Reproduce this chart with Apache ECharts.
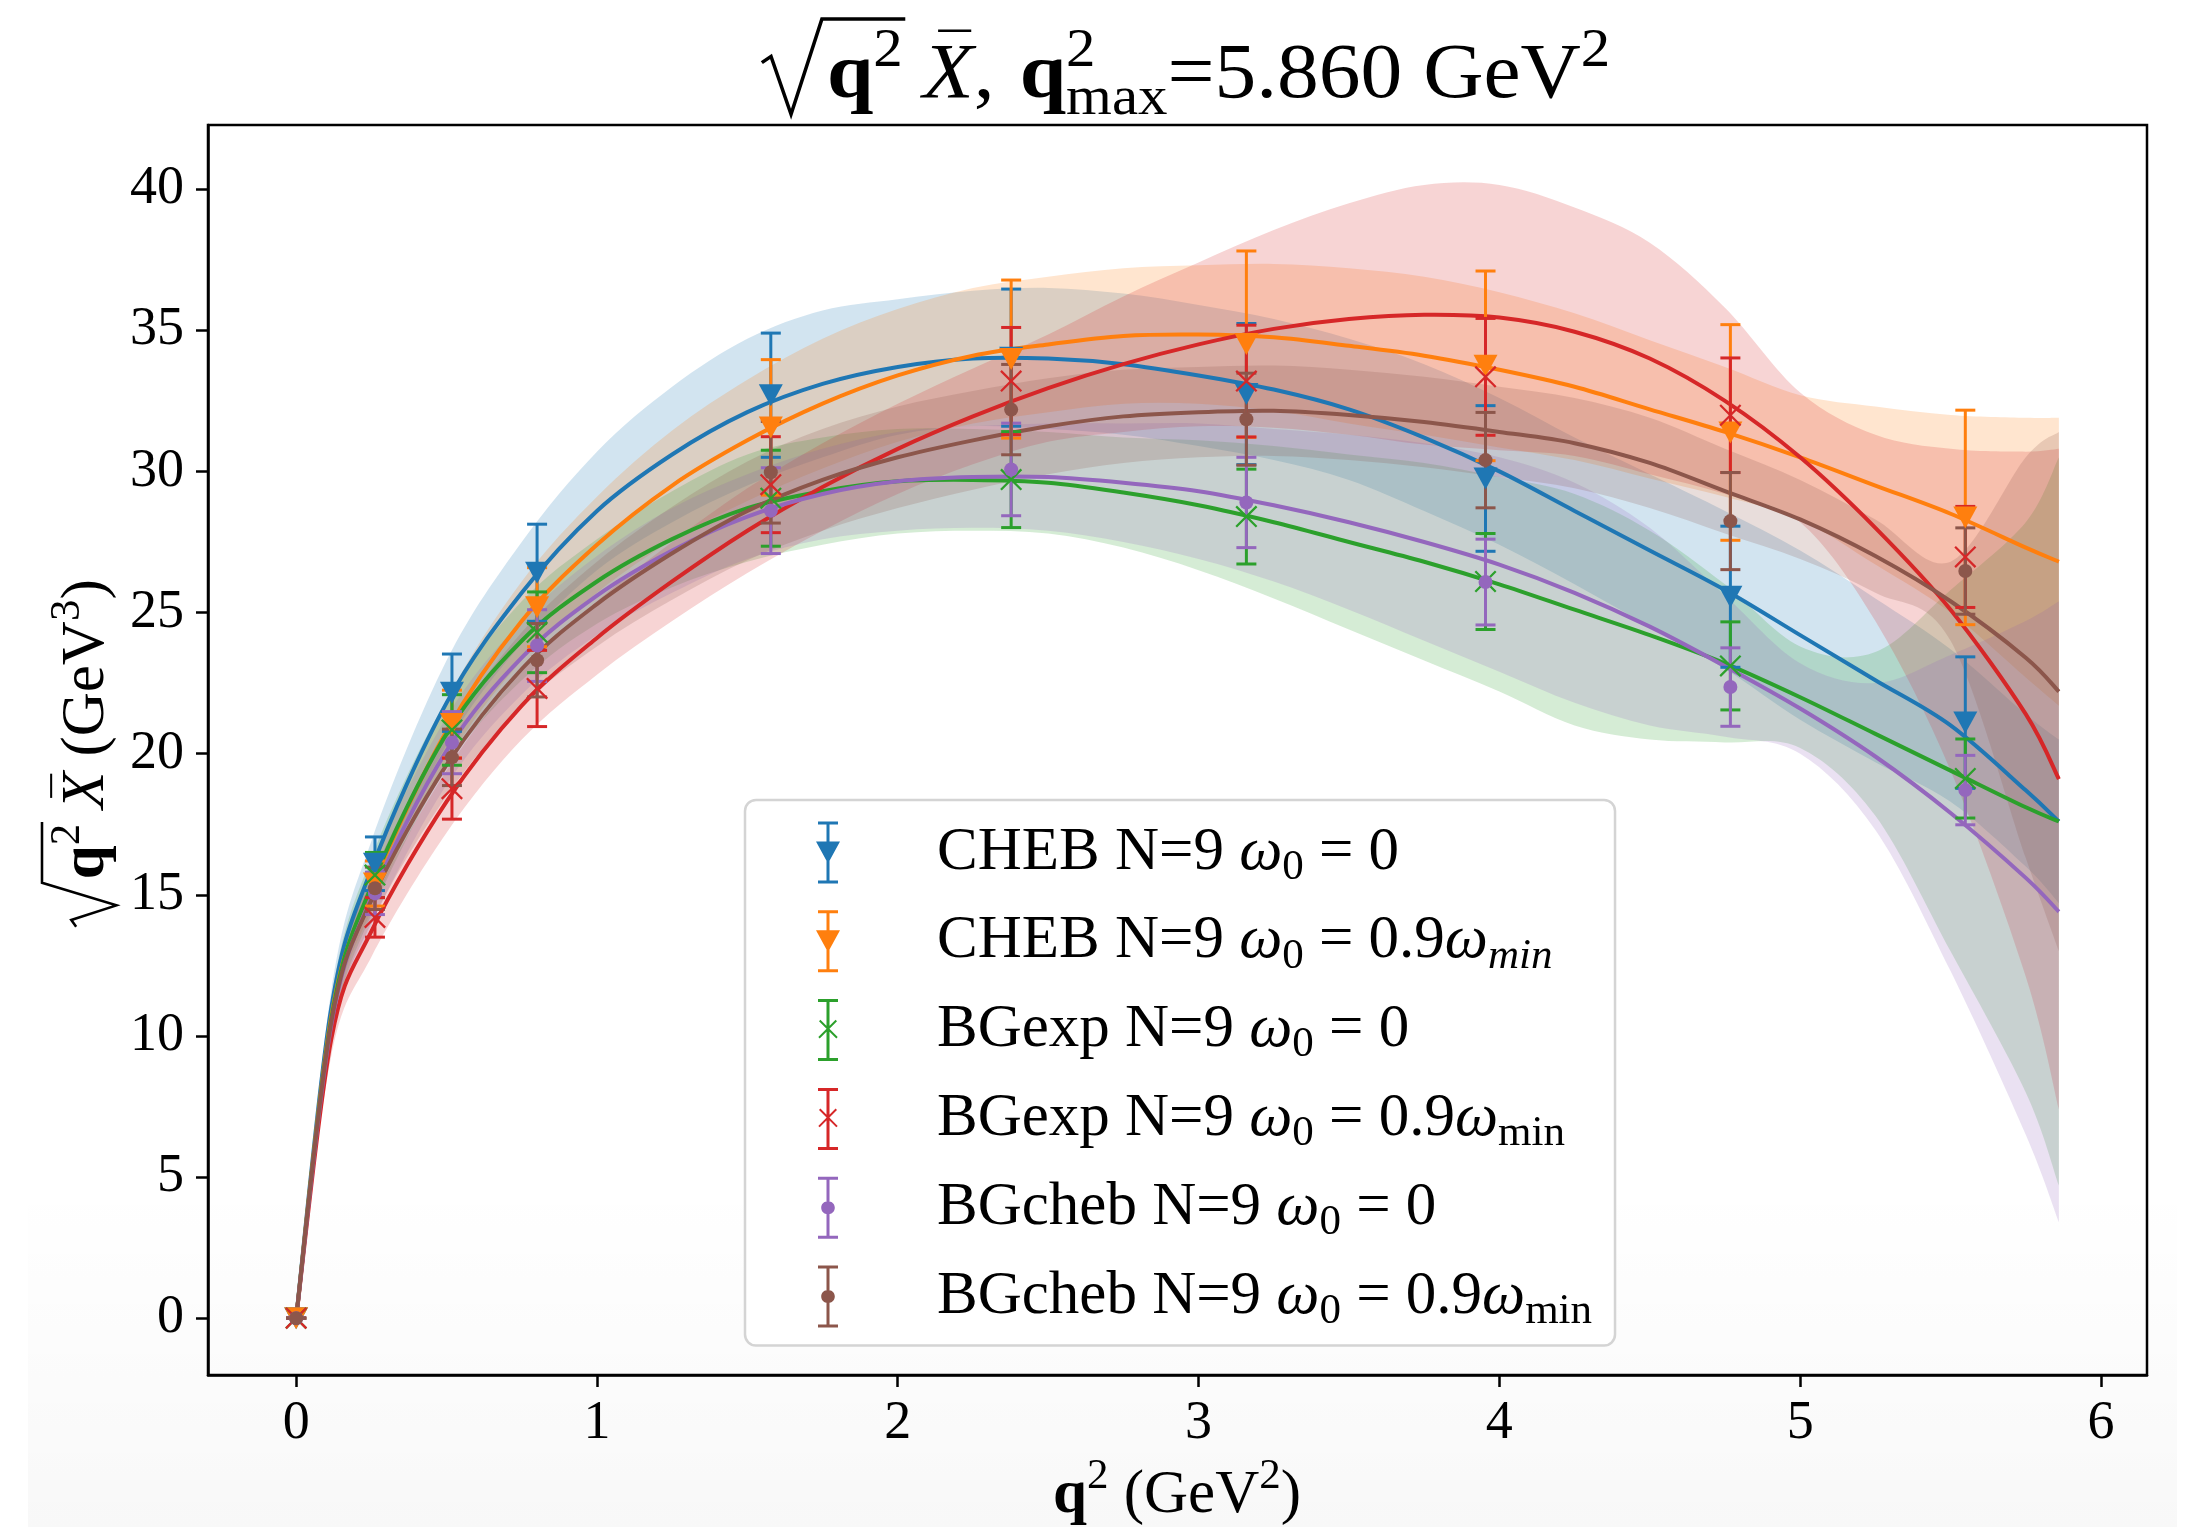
<!DOCTYPE html>
<html>
<head>
<meta charset="utf-8">
<script src="https://cdn.jsdelivr.net/npm/echarts@6.0.0/dist/echarts.min.js"></script>
<style>
  html, body { margin: 0; padding: 0; background: #ffffff; }
  #chart { width: 2193px; height: 1527px; }
</style>
</head>
<body>
<div id="chart"></div>
<script>
// ---------------- data ----------------
// lattice points in q^2 (GeV^2)
const qPoints = [0, 0.262, 0.518, 0.801, 1.578, 2.377, 3.159, 3.954, 4.768, 5.549];

// sqrt(q^2) Xbar at the lattice points, with errors
const cheb0Val   = [0, 16.10, 22.16, 26.41, 32.70, 34.03, 32.74, 29.75, 25.56, 21.10];
const cheb0Err   = [0, 0.95, 1.37, 1.72, 2.20, 2.43, 2.50, 2.58, 2.50, 2.33];
const cheb09Val  = [0, 15.40, 21.05, 25.19, 31.56, 33.98, 34.51, 33.74, 31.38, 28.37];
const cheb09Err  = [0, 0.80, 1.20, 1.40, 2.40, 2.80, 3.30, 3.36, 3.82, 3.80];
const bgexp0Val  = [0, 15.70, 20.84, 24.30, 29.05, 29.71, 28.40, 26.10, 23.11, 19.12];
const bgexp0Err  = [0, 0.80, 1.25, 1.43, 1.70, 1.70, 1.68, 1.70, 1.56, 1.40];
const bgexp09Val = [0, 14.20, 18.76, 22.31, 29.53, 33.20, 33.20, 33.35, 31.99, 26.97];
const bgexp09Err = [0, 0.70, 1.08, 1.35, 1.70, 1.90, 1.98, 2.07, 2.03, 1.79];
const bgcheb0Val = [0, 15.05, 20.39, 23.83, 28.61, 30.07, 28.90, 26.08, 22.36, 18.71];
const bgcheb0Err = [0, 0.75, 1.10, 1.27, 1.52, 1.64, 1.60, 1.52, 1.39, 1.23];
const bgcheb09Val = [0, 15.23, 19.87, 23.31, 29.97, 32.19, 31.85, 30.40, 28.24, 26.47];
const bgcheb09Err = [0, 0.75, 1.00, 1.30, 1.80, 1.60, 1.63, 1.69, 1.72, 1.53];

// fitted curves and their error bands, sampled in q^2
const fitX = [0, 0.117, 0.25, 0.5, 0.75, 1.0, 1.25, 1.5, 1.75, 2.0, 2.25, 2.5, 2.75, 3.0, 3.25,
              3.5, 3.75, 4.0, 4.25, 4.5, 4.75, 5.0, 5.25, 5.5, 5.75, 5.86];

const cheb0Fit = [0, 11.0, 15.9, 21.8, 25.7, 28.6, 30.6, 32.1, 33.1, 33.7, 34.0, 34.0, 33.8, 33.4, 32.9,
                  32.2, 31.2, 30.0, 28.6, 27.2, 25.8, 24.2, 22.6, 21.0, 18.7, 17.6];
const cheb0Hi  = [0, 11.6, 16.9, 23.3, 27.5, 30.7, 33.0, 34.7, 35.7, 36.1, 36.4, 36.5, 36.3, 35.9, 35.4,
                  34.7, 33.8, 32.6, 31.2, 29.9, 28.6, 27.2, 25.5, 23.7, 21.4, 20.5];
const cheb0Lo  = [0, 10.4, 14.9, 20.3, 23.9, 26.5, 28.2, 29.5, 30.5, 31.3, 31.6, 31.5, 31.3, 30.9, 30.4,
                  29.7, 28.6, 27.4, 26.0, 24.5, 23.0, 21.2, 19.7, 18.3, 16.0, 14.7];

const cheb09Fit = [0, 10.7, 15.2, 20.8, 24.7, 27.4, 29.5, 31.1, 32.4, 33.4, 34.1, 34.5, 34.8, 34.85, 34.75,
                   34.45, 34.1, 33.6, 33.0, 32.2, 31.4, 30.5, 29.5, 28.5, 27.3, 26.8];
const cheb09Hi  = [0, 11.2, 15.95, 21.9, 26.1, 29.1, 31.45, 33.25, 34.7, 35.75, 36.5, 36.9, 37.2, 37.3, 37.35,
                   37.2, 36.9, 36.35, 35.6, 34.65, 33.7, 32.7, 32.3, 32.0, 31.9, 31.9];
const cheb09Lo  = [0, 10.2, 14.45, 19.7, 23.3, 25.7, 27.55, 28.95, 30.1, 31.05, 31.7, 32.1, 32.4, 32.4, 32.15,
                   31.7, 31.3, 30.85, 30.4, 29.75, 29.1, 28.3, 26.7, 25.0, 22.7, 21.7];

const bgexp0Fit = [0, 10.6, 15.3, 20.7, 24.0, 26.1, 27.6, 28.7, 29.3, 29.65, 29.7, 29.6, 29.25, 28.8, 28.2,
                   27.5, 26.8, 26.0, 25.1, 24.2, 23.2, 22.0, 20.7, 19.4, 18.1, 17.6];
const bgexp0Hi  = [0, 11.3, 16.3, 21.9, 25.4, 27.6, 29.3, 30.6, 31.2, 31.5, 31.5, 31.4, 31.2, 31.1, 30.9,
                   30.6, 30.3, 29.8, 29.2, 27.9, 26.0, 23.8, 23.6, 25.8, 28.2, 30.5];
const bgexp0Lo  = [0, 9.9, 14.3, 19.5, 22.6, 24.6, 25.9, 26.8, 27.4, 27.8, 27.9, 27.8, 27.3, 26.5, 25.5,
                   24.4, 23.3, 22.2, 21.0, 20.5, 20.4, 20.2, 17.8, 13.0, 8.0, 4.7];

const bgexp09Fit = [0, 9.9, 13.7, 18.3, 21.7, 24.1, 26.1, 27.9, 29.45, 30.8, 31.95, 32.95, 33.8, 34.5, 35.05,
                    35.4, 35.55, 35.45, 34.95, 34.0, 32.5, 30.5, 28.0, 25.1, 21.4, 19.1];
const bgexp09Hi  = [0, 10.5, 14.6, 19.4, 22.9, 25.4, 27.5, 29.4, 31.0, 32.4, 33.65, 34.85, 36.2, 37.4, 38.55,
                    39.5, 40.15, 40.15, 39.35, 38.1, 35.8, 32.8, 31.3, 30.8, 30.7, 30.8];
const bgexp09Lo  = [0, 9.3, 12.8, 17.2, 20.5, 22.8, 24.7, 26.4, 27.9, 29.2, 30.25, 31.05, 31.4, 31.6, 31.55,
                    31.3, 30.95, 30.75, 30.55, 29.9, 29.2, 28.2, 24.7, 19.4, 12.1, 7.4];

const bgcheb0Fit = [0, 10.4, 14.9, 20.1, 23.4, 25.6, 27.2, 28.4, 29.2, 29.65, 29.8, 29.8, 29.6, 29.3, 28.8,
                    28.2, 27.5, 26.7, 25.7, 24.5, 23.1, 21.6, 19.9, 17.9, 15.6, 14.4];
const bgcheb0Hi  = [0, 11.1, 15.9, 21.3, 24.7, 27.0, 28.7, 29.9, 30.8, 31.4, 31.6, 31.7, 31.7, 31.7, 31.5,
                    31.3, 31.0, 30.5, 29.6, 28.0, 25.6, 23.2, 22.5, 23.5, 24.7, 25.4];
const bgcheb0Lo  = [0, 9.7, 13.9, 18.9, 22.1, 24.2, 25.7, 26.9, 27.6, 27.9, 28.0, 27.9, 27.5, 26.9, 26.1,
                    25.1, 24.0, 22.9, 21.8, 21.0, 20.6, 20.0, 17.3, 12.3, 6.5, 3.4];

const bgcheb09Fit = [0, 10.5, 14.8, 19.6, 23.0, 25.3, 27.1, 28.6, 29.7, 30.5, 31.1, 31.6, 31.95, 32.1, 32.15,
                     32.0, 31.75, 31.4, 31.0, 30.3, 29.3, 28.3, 27.0, 25.4, 23.4, 22.2];
const bgcheb09Hi  = [0, 11.1, 15.6, 20.7, 24.3, 26.8, 28.75, 30.35, 31.5, 32.3, 32.85, 33.3, 33.6, 33.7, 33.75,
                     33.6, 33.35, 33.0, 32.6, 31.9, 30.8, 29.7, 28.3, 26.8, 30.5, 31.4];
const bgcheb09Lo  = [0, 9.9, 14.0, 18.5, 21.7, 23.8, 25.45, 26.85, 27.9, 28.7, 29.35, 29.9, 30.3, 30.5, 30.55,
                     30.4, 30.15, 29.8, 29.4, 28.7, 27.8, 26.9, 25.7, 24.0, 16.3, 13.0];

// axis ticks
const xTicks = [0, 1, 2, 3, 4, 5, 6];
const yTicks = [0, 5, 10, 15, 20, 25, 30, 35, 40];

// ---------------- styling ----------------
const FONT = '"Liberation Serif", "Times New Roman", serif';
const COLORS = ['#1f77b4', '#ff7f0e', '#2ca02c', '#d62728', '#9467bd', '#8c564b'];

// marker shapes (filled paths, drawn at the point)
const TRI_DOWN = 'path://M0,0 L24,0 L12,22 Z';
const CROSS = 'path://M1.6,0 L22,20.4 L20.4,22 L0,1.6 Z M20.4,0 L22,1.6 L1.6,22 L0,20.4 Z';

// legend glyphs: error bar with caps and the marker in the middle (24 x 62 box)
const BAR_PATH = 'M2,0 L22,0 L22,3 L2,3 Z M10.5,0 L13.5,0 L13.5,62 L10.5,62 Z M2,59 L22,59 L22,62 L2,62 Z';
const LEG_TRI = 'path://' + BAR_PATH + ' M0,20 L24,20 L12,42 Z';
const LEG_CROSS = 'path://' + BAR_PATH +
  ' M4.4,20.7 L21.7,38 L20.3,39.4 L3,22.1 Z M19.6,20.7 L21,22.1 L3.7,39.4 L2.3,38 Z';
const LEG_DOT = 'path://' + BAR_PATH +
  ' M12,24.5 C16,24.5 18.8,27.4 18.8,31 C18.8,34.6 16,37.5 12,37.5 C8,37.5 5.2,34.6 5.2,31 C5.2,27.4 8,24.5 12,24.5 Z';

const models = [
  { name: 'cheb0',    color: COLORS[0], val: cheb0Val,    err: cheb0Err,    fit: cheb0Fit,    lo: cheb0Lo,    hi: cheb0Hi,
    symbol: TRI_DOWN, size: [24, 22], icon: LEG_TRI,
    label: '{g| }{n|CHEB N=9 }{w|ω}{s|0}{n| = 0}' },
  { name: 'cheb09',   color: COLORS[1], val: cheb09Val,   err: cheb09Err,   fit: cheb09Fit,   lo: cheb09Lo,   hi: cheb09Hi,
    symbol: TRI_DOWN, size: [24, 22], icon: LEG_TRI,
    label: '{g| }{n|CHEB N=9 }{w|ω}{s|0}{n| = 0.9}{w|ω}{si|min}' },
  { name: 'bgexp0',   color: COLORS[2], val: bgexp0Val,   err: bgexp0Err,   fit: bgexp0Fit,   lo: bgexp0Lo,   hi: bgexp0Hi,
    symbol: CROSS, size: [22, 22], icon: LEG_CROSS,
    label: '{g| }{n|BGexp N=9 }{w|ω}{s|0}{n| = 0}' },
  { name: 'bgexp09',  color: COLORS[3], val: bgexp09Val,  err: bgexp09Err,  fit: bgexp09Fit,  lo: bgexp09Lo,  hi: bgexp09Hi,
    symbol: CROSS, size: [22, 22], icon: LEG_CROSS,
    label: '{g| }{n|BGexp N=9 }{w|ω}{s|0}{n| = 0.9}{w|ω}{s|min}' },
  { name: 'bgcheb0',  color: COLORS[4], val: bgcheb0Val,  err: bgcheb0Err,  fit: bgcheb0Fit,  lo: bgcheb0Lo,  hi: bgcheb0Hi,
    symbol: 'circle', size: 14, icon: LEG_DOT,
    label: '{g| }{n|BGcheb N=9 }{w|ω}{s|0}{n| = 0}' },
  { name: 'bgcheb09', color: COLORS[5], val: bgcheb09Val, err: bgcheb09Err, fit: bgcheb09Fit, lo: bgcheb09Lo, hi: bgcheb09Hi,
    symbol: 'circle', size: 14, icon: LEG_DOT,
    label: '{g| }{n|BGcheb N=9 }{w|ω}{s|0}{n| = 0.9}{w|ω}{s|min}' }
];

// ---------------- smooth curve helper (Catmull-Rom through pixel points) ----------------
function curveCommands(pts, startWithMove) {
  let d = startWithMove ? 'M' + pts[0][0] + ',' + pts[0][1] : 'L' + pts[0][0] + ',' + pts[0][1];
  for (let i = 0; i < pts.length - 1; i++) {
    const p0 = pts[Math.max(0, i - 1)], p1 = pts[i], p2 = pts[i + 1], p3 = pts[Math.min(pts.length - 1, i + 2)];
    const c1x = p1[0] + (p2[0] - p0[0]) / 6, c1y = p1[1] + (p2[1] - p0[1]) / 6;
    const c2x = p2[0] - (p3[0] - p1[0]) / 6, c2y = p2[1] - (p3[1] - p1[1]) / 6;
    d += ' C' + c1x + ',' + c1y + ' ' + c2x + ',' + c2y + ' ' + p2[0] + ',' + p2[1];
  }
  return d;
}

// ---------------- math-style text layout (title and axis names) ----------------
const mctx = document.createElement('canvas').getContext('2d');
function textWidth(s, font) { mctx.font = font; return mctx.measureText(s).width; }
function middleToBaseline(font, size) {
  mctx.font = font;
  mctx.textBaseline = 'alphabetic';
  const a = mctx.measureText('x').fontBoundingBoxAscent;
  mctx.textBaseline = 'middle';
  const b = mctx.measureText('x').fontBoundingBoxAscent;
  mctx.textBaseline = 'alphabetic';
  if (typeof a !== 'number' || typeof b !== 'number') return 0.3 * size;
  return a - b;
}
const fnt = (size, style, weight) => (style || 'normal') + ' ' + (weight || 'normal') + ' ' + size + 'px ' + FONT;

// pieces: {t, size, style, weight, dy (baseline shift, + is up), stack (share x with previous piece),
//          bar (overline), radOpen / radClose, gap (em of base size)}
function mathGroup(pieces, S, anchor) {
  const children = [];
  let x = 0, prevX = 0;
  let radStart = null;
  const lw = Math.max(2.5, S * 0.042);
  for (const p of pieces) {
    if (p.gap) { x += p.gap * S; continue; }
    if (p.radOpen) { radStart = x; x += 0.78 * S; continue; }
    if (p.radClose) {
      const top = -1.0 * S;
      children.push({
        type: 'polyline',
        shape: { points: [[radStart, -0.44 * S], [radStart + 0.11 * S, -0.52 * S], [radStart + 0.35 * S, 0.22 * S],
                          [radStart + 0.72 * S, top], [x + 0.03 * S, top]] },
        style: { stroke: '#000', lineWidth: lw, fill: null, lineJoin: 'miter' }
      });
      x += 0.1 * S;
      continue;
    }
    const font = fnt(p.size, p.style, p.weight);
    const w = textWidth(p.t, font);
    const px = p.stack ? prevX : x;
    const y = -(p.dy || 0) - middleToBaseline(font, p.size);
    children.push({
      type: 'text',
      style: { text: p.t, x: px, y: y, font: font, fill: '#000', textAlign: 'left', textVerticalAlign: 'middle' }
    });
    if (p.bar) {
      children.push({
        type: 'line',
        shape: { x1: px + w * 0.3, y1: -0.85 * p.size, x2: px + w * 0.95, y2: -0.85 * p.size },
        style: { stroke: '#000', lineWidth: lw * 0.8 }
      });
    }
    if (p.stack) { x = Math.max(x, px + w); }
    else { prevX = x; x += w; }
  }
  // centre the pieces on the anchor
  children.forEach(c => {
    if (c.type === 'text') c.style.x -= x / 2;
    else if (c.type === 'line') { c.shape.x1 -= x / 2; c.shape.x2 -= x / 2; }
    else c.shape.points = c.shape.points.map(pt => [pt[0] - x / 2, pt[1]]);
  });
  return {
    type: 'group', x: anchor.x, y: anchor.y, rotation: anchor.rotation || 0,
    scaleX: anchor.scaleX || 1, children: children, silent: true
  };
}

const T = 78, t = 55;
const titlePieces = [
  { radOpen: true },
  { t: 'q', size: T, weight: 'bold' },
  { t: '2', size: t, dy: 0.40 * T },
  { radClose: true },
  { gap: 0.14 },
  { t: 'X', size: T, style: 'italic', bar: true },
  { t: ',', size: T },
  { gap: 0.3 },
  { t: 'q', size: T, weight: 'bold' },
  { t: '2', size: t, dy: 0.40 * T },
  { t: 'max', size: t, dy: -0.22 * T, stack: true },
  { t: '=5.860 GeV', size: T },
  { t: '2', size: t, dy: 0.40 * T }
];
const A = 61, a = 43;
const yNamePieces = [
  { radOpen: true },
  { t: 'q', size: A, weight: 'bold' },
  { t: '2', size: a, dy: 0.40 * A },
  { radClose: true },
  { gap: 0.14 },
  { t: 'X', size: A, style: 'italic', bar: true },
  { gap: 0.25 },
  { t: '(GeV', size: A },
  { t: '3', size: a, dy: 0.40 * A },
  { t: ')', size: A }
];
const xNamePieces = [
  { t: 'q', size: A, weight: 'bold' },
  { t: '2', size: a, dy: 0.40 * A },
  { gap: 0.25 },
  { t: '(GeV', size: A },
  { t: '2', size: a, dy: 0.40 * A },
  { t: ')', size: A }
];

// ---------------- series ----------------
const series = [];

// error bands: one filled shape per model between the lower and upper edges
function bandRenderer(m) {
  return function (params, api) {
    if (params.dataIndex !== 0) return null;
    const upper = fitX.map((x, j) => api.coord([x, m.hi[j]]));
    const lower = fitX.map((x, j) => api.coord([x, m.lo[j]])).reverse();
    const d = curveCommands(upper, true) + ' ' + curveCommands(lower, false) + ' Z';
    return {
      type: 'path',
      shape: { pathData: d },
      style: { fill: m.color, opacity: 0.2, stroke: null }
    };
  };
}
models.forEach(m => {
  series.push({
    type: 'custom', name: 'band-' + m.name, silent: true, z: 1,
    encode: { x: 0, y: [1, 2] },
    data: fitX.map((x, j) => [x, m.lo[j], m.hi[j]]),
    renderItem: bandRenderer(m)
  });
});

// central fit curves
function curveRenderer(m) {
  return function (params, api) {
    if (params.dataIndex !== 0) return null;
    const pts = fitX.map((x, j) => api.coord([x, m.fit[j]]));
    return {
      type: 'path',
      shape: { pathData: curveCommands(pts, true) },
      style: { fill: null, stroke: m.color, lineWidth: 4, lineJoin: 'round' }
    };
  };
}
models.forEach(m => {
  series.push({
    type: 'custom', name: 'fit-' + m.name, silent: true, z: 3,
    encode: { x: 0, y: 1 },
    data: fitX.map((x, j) => [x, m.fit[j]]),
    renderItem: curveRenderer(m)
  });
});

// error bars with caps
function errorBarRenderer(color) {
  return function (params, api) {
    const x = api.value(0), y = api.value(1), e = api.value(2);
    const top = api.coord([x, y + e]);
    const bot = api.coord([x, y - e]);
    const hw = 10;
    const st = { stroke: color, lineWidth: 3 };
    return {
      type: 'group',
      children: [
        { type: 'line', shape: { x1: top[0], y1: top[1], x2: bot[0], y2: bot[1] }, style: st },
        { type: 'line', shape: { x1: top[0] - hw, y1: top[1], x2: top[0] + hw, y2: top[1] }, style: st },
        { type: 'line', shape: { x1: bot[0] - hw, y1: bot[1], x2: bot[0] + hw, y2: bot[1] }, style: st }
      ]
    };
  };
}
models.forEach(m => {
  series.push({
    type: 'custom', name: m.name, z: 4, silent: true,
    itemStyle: { color: m.color },
    encode: { x: 0, y: 1 },
    data: qPoints.map((q, j) => [q, m.val[j], m.err[j]]),
    renderItem: errorBarRenderer(m.color)
  });
  series.push({
    type: 'scatter', name: m.name, z: 5, silent: true,
    data: qPoints.map((q, j) => [q, m.val[j]]),
    symbol: m.symbol, symbolSize: m.size,
    itemStyle: { color: m.color, opacity: 1 }
  });
});

// ---------------- chart ----------------
const chart = echarts.init(document.getElementById('chart'), null, { renderer: 'canvas' });

const legendRich = {
  g: { width: 92 },
  n: { fontFamily: FONT, fontSize: 61, color: '#000' },
  w: { fontFamily: FONT, fontSize: 61, fontStyle: 'italic', color: '#000' },
  s: { fontFamily: FONT, fontSize: 43, color: '#000', padding: [30, 0, 0, 0] },
  si: { fontFamily: FONT, fontSize: 43, fontStyle: 'italic', color: '#000', padding: [30, 0, 0, 0] }
};

const option = {
  backgroundColor: '#ffffff',
  animation: false,
  grid: { left: 208, top: 125, right: 46, bottom: 152, show: true, borderColor: '#000', borderWidth: 2.5, containLabel: false },
  xAxis: {
    type: 'value', min: -0.293, max: 6.153,
    axisLine: { show: true, onZero: false, lineStyle: { color: '#000', width: 2.5 } },
    axisTick: { show: true, length: 12, inside: false, customValues: xTicks, lineStyle: { color: '#000', width: 2.5 } },
    axisLabel: { show: true, customValues: xTicks, margin: 22, fontFamily: FONT, fontSize: 54, color: '#000' },
    splitLine: { show: false }
  },
  yAxis: {
    type: 'value', min: -2.013, max: 42.273,
    axisLine: { show: true, onZero: false, lineStyle: { color: '#000', width: 2.5 } },
    axisTick: { show: true, length: 12, inside: false, customValues: yTicks, lineStyle: { color: '#000', width: 2.5 } },
    axisLabel: { show: true, customValues: yTicks, margin: 24, fontFamily: FONT, fontSize: 54, color: '#000' },
    splitLine: { show: false }
  },
  legend: {
    orient: 'vertical', left: 745, top: 800,
    padding: [21.5, 23, 12.5, 71],
    itemWidth: 24, itemHeight: 62, itemGap: 21.3,
    selectedMode: false,
    backgroundColor: 'rgba(255,255,255,0.8)',
    borderColor: '#d4d4d4', borderWidth: 2.5, borderRadius: 11,
    data: models.map(m => ({ name: m.name, icon: m.icon, itemStyle: { color: m.color, borderWidth: 0 } })),
    formatter: name => models.find(m => m.name === name).label,
    textStyle: { rich: legendRich }
  },
  graphic: [
    {
      type: 'rect', silent: true, z: -10,
      shape: { x: 28, y: 1180, width: 2149, height: 347 },
      style: {
        fill: new echarts.graphic.LinearGradient(0, 0, 0, 1, [
          { offset: 0, color: 'rgba(0,0,0,0)' },
          { offset: 1, color: 'rgba(0,0,0,0.028)' }
        ])
      }
    },
    mathGroup(titlePieces, T, { x: 1186, y: 97, scaleX: 1.07 }),
    mathGroup(yNamePieces, A, { x: 103, y: 753, rotation: Math.PI / 2 }),
    mathGroup(xNamePieces, A, { x: 1177, y: 1512 })
  ],
  series: series
};

chart.setOption(option);
</script>
</body>
</html>
